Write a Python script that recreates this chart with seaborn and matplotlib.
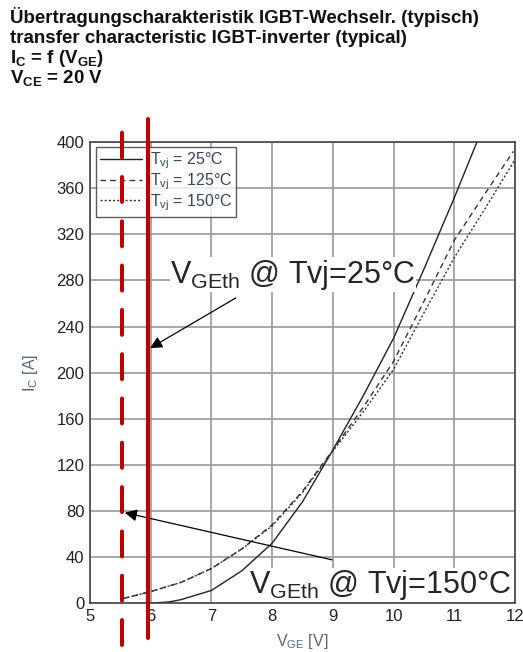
import pandas as pd
import matplotlib.pyplot as plt
import seaborn as sns

vge_25 = [6.0, 6.3, 6.5, 7.0, 7.5, 8.0, 8.5, 9.0, 9.5, 10.0, 10.5, 11.0, 11.37]
ic_25 = [0, 1, 3, 11, 28, 52, 88, 133, 180, 230, 290, 352, 400]

vge_125 = [5.55, 6.0, 6.5, 7.0, 7.5, 8.0, 8.5, 9.0, 9.5, 10.0, 10.5, 11.0, 11.5, 11.97]
ic_125 = [4, 10, 18, 30, 47, 68, 97, 133, 170, 210, 262, 315, 355, 392]

vge_150 = [5.55, 6.0, 6.5, 7.0, 7.5, 8.0, 8.5, 9.0, 9.5, 10.0, 10.5, 11.0, 11.5, 12.0]
ic_150 = [4, 10, 18, 30, 47, 67, 96, 132, 166, 203, 252, 300, 342, 385]

vgeth_25 = 5.95
vgeth_150 = 5.53

sns.set_style("whitegrid")
plt.rcParams['font.family'] = ['Liberation Sans', 'DejaVu Sans']
plt.rcParams['mathtext.fontset'] = 'custom'
plt.rcParams['mathtext.rm'] = 'Liberation Sans'
plt.rcParams['mathtext.it'] = 'Liberation Sans'
plt.rcParams['mathtext.bf'] = 'Liberation Sans:bold'

fig = plt.figure(figsize=(5.23, 6.52), dpi=100)
ax = fig.add_axes([0.172, 0.075, 0.813, 0.707])

df25 = pd.DataFrame({'VGE': vge_25, 'IC': ic_25})
df125 = pd.DataFrame({'VGE': vge_125, 'IC': ic_125})
df150 = pd.DataFrame({'VGE': vge_150, 'IC': ic_150})

sns.lineplot(data=df25, x='VGE', y='IC', ax=ax, color='#222222', lw=1.0,
             label='T$_{vj}$ = 25°C')
sns.lineplot(data=df125, x='VGE', y='IC', ax=ax, color='#333333', lw=1.0,
             linestyle=(0, (4, 3)), label='T$_{vj}$ = 125°C')
sns.lineplot(data=df150, x='VGE', y='IC', ax=ax, color='#333333', lw=1.0,
             linestyle=(0, (1.5, 1.5)), label='T$_{vj}$ = 150°C')

ax.set_xlim(5, 12)
ax.set_ylim(0, 400)
ax.set_xticks(range(5, 13))
ax.set_yticks(range(0, 401, 40))
ax.grid(True, color='#999999', lw=1.2)
for s in ax.spines.values():
    s.set_color('#444444')
    s.set_linewidth(1.2)
ax.tick_params(labelsize=12, colors='#222222', length=0, pad=4)
ax.set_xlabel('V$_{\\mathrm{GE}}$ [V]', fontsize=11.5, color='#556688', labelpad=6)
ax.set_ylabel('I$_{\\mathrm{C}}$ [A]', fontsize=11.5, color='#556688', labelpad=12)

leg = ax.legend(loc='upper left', bbox_to_anchor=(0.015, 0.99), borderaxespad=0,
                fontsize=11.5, frameon=True, fancybox=False, handlelength=2.6,
                borderpad=0.25, labelspacing=0.0, handletextpad=0.5)
leg.get_frame().set_edgecolor('#333333')
leg.get_frame().set_linewidth(1.0)
for t in leg.get_texts():
    t.set_color('#334466')

# rote Schwellspannungs-Markierungen
ax.axvline(vgeth_25, ymin=-0.075, ymax=1.05, color='#c00000', lw=2.9,
           clip_on=False, zorder=10)
ax.axvline(vgeth_150, ymin=-0.09, ymax=1.05, color='#c00000', lw=2.9,
           clip_on=False, linestyle=(0, (6.2, 4.8)), dash_capstyle='round', zorder=10)

ax.annotate('', xy=(vgeth_25, 220), xytext=(7.44, 266),
            arrowprops=dict(arrowstyle='-|>', color='black', lw=0.9, mutation_scale=18), zorder=6)
ax.text(6.32, 278, 'V$_{\\mathrm{GEth}}$ @ Tvj=25°C', fontsize=22, va='baseline', ha='left',
        zorder=7, bbox=dict(facecolor='white', edgecolor='none', pad=0.3))
ax.annotate('', xy=(vgeth_150, 79), xytext=(9.03, 37),
            arrowprops=dict(arrowstyle='-|>', color='black', lw=0.9, mutation_scale=18), zorder=6)
ax.text(11.93, 8.7, 'V$_{\\mathrm{GEth}}$ @ Tvj=150°C', fontsize=22, va='baseline', ha='right',
        zorder=7, bbox=dict(facecolor='white', edgecolor='none', pad=0.3))

title_lines = ['Übertragungscharakteristik IGBT-Wechselr. (typisch)',
               'transfer characteristic IGBT-inverter (typical)',
               'I$_{\\mathbf{C}}$ = f (V$_{\\mathbf{GE}}$)',
               'V$_{\\mathbf{CE}}$ = 20 V']
for i, line in enumerate(title_lines):
    fig.text(0.019, 1 - (23 + i * 20) / 652, line, fontsize=13.5, fontweight='bold',
             color='#111111', va='baseline', ha='left')

fig.savefig('out.png', dpi=100)
